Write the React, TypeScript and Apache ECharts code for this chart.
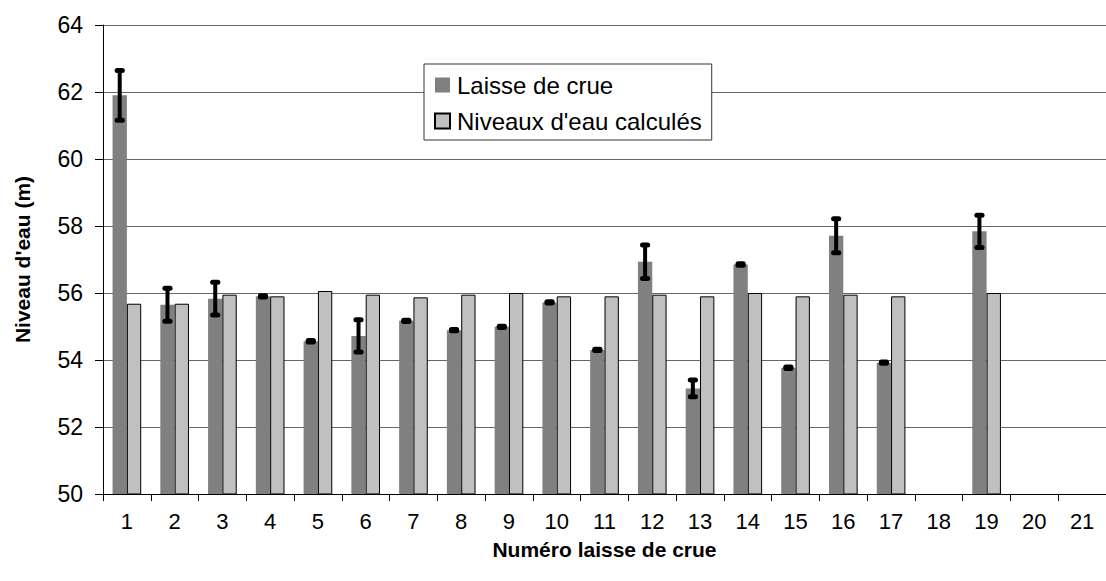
import React, { useEffect, useRef } from "react";
import * as echarts from "echarts";

const categories = ["1","2","3","4","5","6","7","8","9","10","11","12","13","14","15","16","17","18","19","20","21"];
const laisseDeCrue: (number | null)[] = [61.9, 55.65, 55.83, 55.9, 54.56, 54.72, 55.17, 54.89, 54.99, 55.72, 54.3, 56.93, 53.15, 56.85, 53.77, 57.71, 53.92, null, 57.84, null, null];
const incertitude: (number | null)[] = [0.74, 0.49, 0.49, 0.02, 0.02, 0.48, 0.02, 0.02, 0.02, 0.02, 0.02, 0.5, 0.25, 0.02, 0.02, 0.51, 0.02, null, 0.48, null, null];
const niveauxCalcules: (number | null)[] = [55.68, 55.68, 55.95, 55.9, 56.06, 55.95, 55.87, 55.95, 56.0, 55.9, 55.9, 55.95, 55.9, 56.0, 55.9, 55.95, 55.9, null, 56.0, null, null];
const yTicks = { min: 50, max: 64, interval: 2 };

const FONT = "'Liberation Sans', Arial, Helvetica, sans-serif";

export default function App() {
  const ref = useRef<HTMLDivElement>(null);
  useEffect(() => {
    if (!ref.current) return;
    const chart = echarts.init(ref.current, null, { renderer: "svg" });
    const errData = categories
      .map((_, i) => (laisseDeCrue[i] == null ? null : [i, laisseDeCrue[i], incertitude[i]]))
      .filter((d) => d !== null);
    chart.setOption({
      animation: false,
      textStyle: { fontFamily: FONT },
      grid: { left: 103, top: 25, bottom: 87, right: -10, containLabel: false },
      legend: {
        orient: "vertical",
        left: 424,
        top: 64,
        padding: [9, 10, 7, 10],
        itemGap: 12,
        itemWidth: 15,
        itemHeight: 15,
        borderColor: "#333",
        borderWidth: 1,
        backgroundColor: "#fff",
        textStyle: { fontSize: 24, color: "#000", fontFamily: FONT, padding: [0, 0, 0, 2] },
        data: [
          { name: "Laisse de crue", icon: "rect" },
          { name: "Niveaux d'eau calculés", icon: "rect" },
        ],
      },
      xAxis: {
        type: "category",
        data: categories,
        boundaryGap: true,
        name: "Numéro laisse de crue",
        nameLocation: "middle",
        nameGap: 45,
        nameTextStyle: { fontSize: 21, fontWeight: "bold", color: "#000", fontFamily: FONT },
        axisLine: { lineStyle: { color: "#000", width: 1 } },
        axisTick: { show: true, length: 7, alignWithLabel: false, lineStyle: { color: "#000" } },
        axisLabel: { fontSize: 22, color: "#000", margin: 16, interval: 0, fontFamily: FONT },
        splitLine: { show: false },
      },
      yAxis: {
        type: "value",
        min: yTicks.min,
        max: yTicks.max,
        interval: yTicks.interval,
        name: "Niveau d'eau (m)",
        nameLocation: "middle",
        nameRotate: 90,
        nameGap: 70,
        nameTextStyle: { fontSize: 21, fontWeight: "bold", color: "#000", fontFamily: FONT },
        axisLine: { show: true, lineStyle: { color: "#000", width: 1 } },
        axisTick: { show: true, length: 8, lineStyle: { color: "#000" } },
        axisLabel: { fontSize: 23, color: "#000", margin: 20, fontFamily: FONT },
        splitLine: { show: true, lineStyle: { color: "#666", width: 1 } },
      },
      series: [
        {
          name: "Laisse de crue",
          type: "bar",
          data: laisseDeCrue,
          barWidth: "30%",
          barGap: "0%",
          itemStyle: { color: "#808080" },
          z: 2,
        },
        {
          name: "Niveaux d'eau calculés",
          type: "bar",
          data: niveauxCalcules,
          barWidth: "30%",
          barGap: "0%",
          itemStyle: { color: "#c0c0c0", borderColor: "#000", borderWidth: 1 },
          z: 2,
        },
        {
          name: "err",
          type: "custom",
          data: errData,
          z: 5,
          silent: true,
          renderItem: (params: any, api: any) => {
            const idx = api.value(0);
            const v = api.value(1);
            const e = api.value(2);
            const catW = api.size([1, 0])[0];
            const off = -catW * 0.15;
            const top = api.coord([idx, v + e]);
            const bot = api.coord([idx, v - e]);
            const x = top[0] + off;
            const hw = catW * 0.15 * 0.5 - 1;
            const stem = { stroke: "#000", lineWidth: 4, lineCap: "butt" };
            const cap = { stroke: "#000", lineWidth: 5, lineCap: "round" };
            return {
              type: "group",
              children: [
                { type: "line", shape: { x1: x, y1: top[1], x2: x, y2: bot[1] }, style: stem },
                { type: "line", shape: { x1: x - hw, y1: top[1], x2: x + hw, y2: top[1] }, style: cap },
                { type: "line", shape: { x1: x - hw, y1: bot[1], x2: x + hw, y2: bot[1] }, style: cap },
              ],
            };
          },
        },
      ],
    });
    return () => chart.dispose();
  }, []);
  return (
    <div style={{ position: "absolute", left: 0, top: 0, width: 1106, height: 581, overflow: "hidden", background: "#fff" }}>
      <div ref={ref} style={{ width: 1106, height: 581 }} />
    </div>
  );
}
